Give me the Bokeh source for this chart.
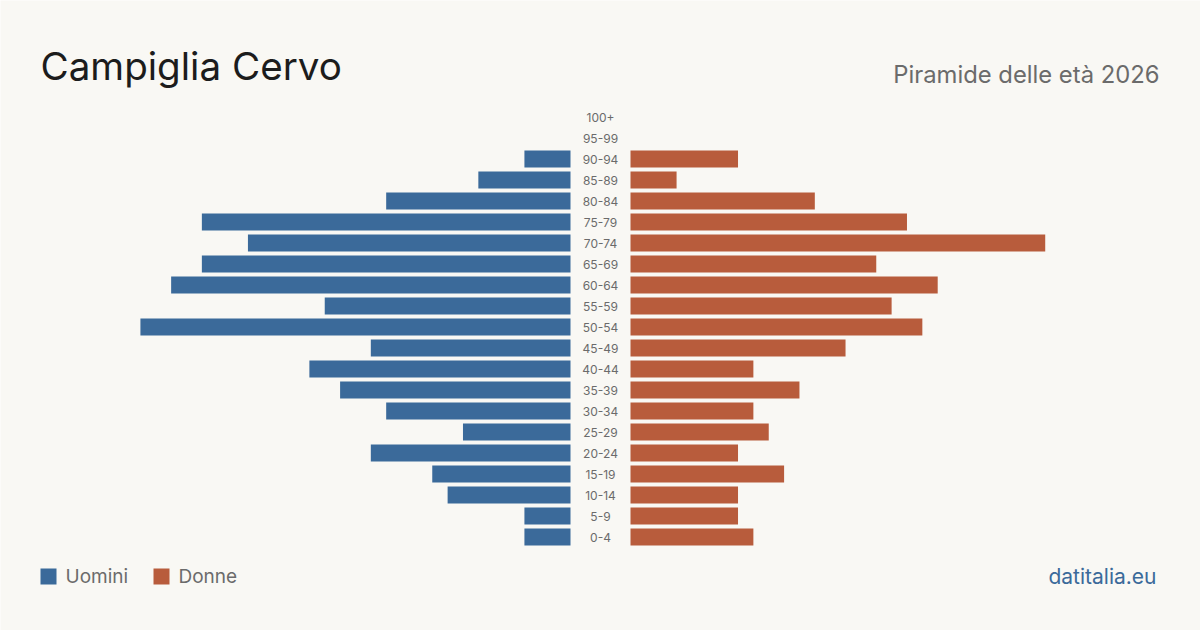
from bokeh.plotting import figure
from bokeh.models import Range1d, Label, ColumnDataSource, BoxAnnotation
from bokeh.core.properties import value
from bokeh.embed import file_html
from bokeh.resources import INLINE

# Age classes, youngest first
age_groups = ["0-4", "5-9", "10-14", "15-19", "20-24", "25-29", "30-34", "35-39",
              "40-44", "45-49", "50-54", "55-59", "60-64", "65-69", "70-74", "75-79",
              "80-84", "85-89", "90-94", "95-99", "100+"]
men = [3, 3, 8, 9, 13, 7, 12, 15, 17, 13, 28, 16, 26, 24, 21, 24, 12, 6, 3, 0, 0]
women = [8, 7, 7, 10, 7, 9, 8, 11, 8, 14, 19, 17, 20, 16, 27, 18, 12, 3, 7, 0, 0]

title = "Campiglia Cervo"
subtitle = "Piramide delle età 2026"
legend_labels = ["Uomini", "Donne"]
credit = "datitalia.eu"

BG = "#f9f8f4"
MEN_COLOR = "#3b6a9a"
WOMEN_COLOR = "#b85c3c"
FONT = "Inter"

W, H = 1200, 630
PX_PER_UNIT = 15.36      # horizontal pixels per person
ROW = 21.0               # pixels per age row
HALF_GAP = 30 / PX_PER_UNIT
BAR_H = 17 / ROW
Y0 = 536.5               # pixel row of the youngest class

p = figure(width=W, height=H, output_backend="svg", toolbar_location=None,
           x_range=Range1d(-600 / PX_PER_UNIT, 600 / PX_PER_UNIT),
           y_range=Range1d((Y0 - H) / ROW, Y0 / ROW),
           min_border=0, background_fill_color=BG, border_fill_color=BG,
           outline_line_color=None)
p.axis.visible = False
p.grid.visible = False

idx = list(range(len(age_groups)))
src = ColumnDataSource(dict(
    y=idx, age=age_groups,
    m_left=[-HALF_GAP - v for v in men], m_right=[-HALF_GAP] * len(men),
    w_left=[HALF_GAP] * len(women), w_right=[HALF_GAP + v for v in women],
    zero=[0] * len(idx),
))

p.hbar(y="y", left="m_left", right="m_right", height=BAR_H, source=src,
       fill_color=MEN_COLOR, line_color=None)
p.hbar(y="y", left="w_left", right="w_right", height=BAR_H, source=src,
       fill_color=WOMEN_COLOR, line_color=None)

p.text(x="zero", y="y", text="age", source=src, text_align="center",
       text_baseline="middle", text_font=value(FONT), text_font_size="12px",
       text_color="#6b6b6b")


def screen_label(x, y_top, text, size, color, align="left"):
    p.add_layout(Label(x=x, y=H - y_top, x_units="screen", y_units="screen",
                       text=text, text_font=FONT, text_font_size=size,
                       text_color=color, text_align=align,
                       text_baseline="alphabetic"))


screen_label(40, 65, title, "38.6px", "#1c1c1c")
screen_label(1159, 74, subtitle, "23.8px", "#6b6b6b", align="right")

# Legend
legend_colors = [MEN_COLOR, WOMEN_COLOR]
legend_x = [40, 153]
for lx, col, lab in zip(legend_x, legend_colors, legend_labels):
    p.add_layout(BoxAnnotation(left=lx, right=lx + 16, bottom=H - 584, top=H - 568,
                               left_units="screen", right_units="screen",
                               bottom_units="screen", top_units="screen",
                               fill_color=col, fill_alpha=1, line_color=None))
    screen_label(lx + 25, 576, lab, "19px", "#6b6b6b")

screen_label(1156, 576, credit, "21px", MEN_COLOR, align="right")

open("out.html", "w").write(file_html(p, INLINE))
